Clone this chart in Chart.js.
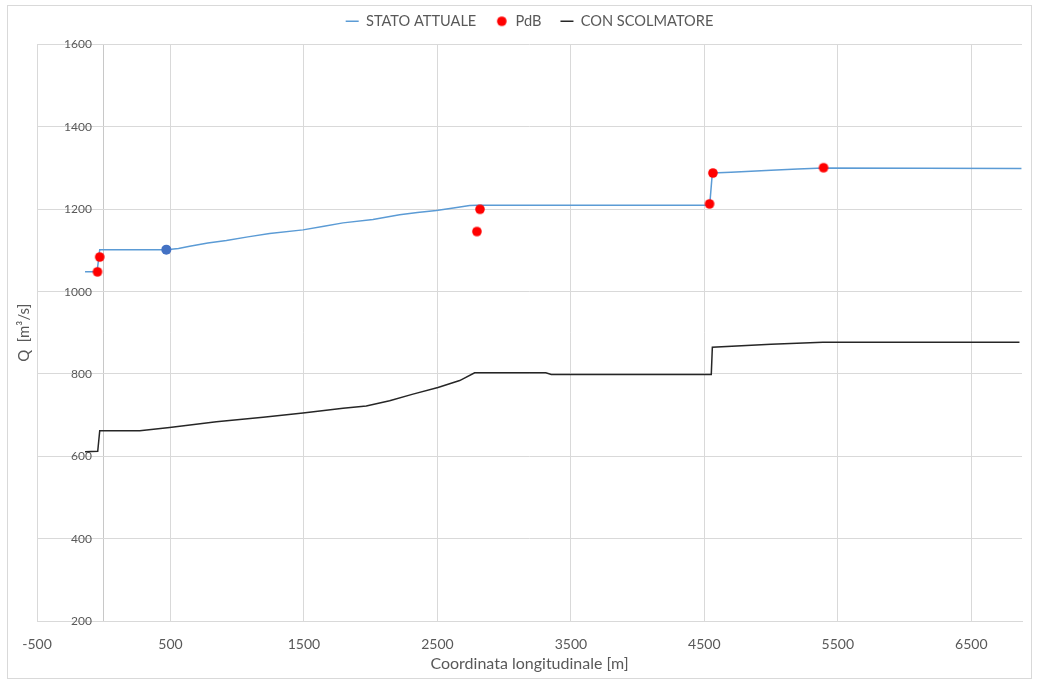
<!DOCTYPE html>
<html>
<head>
<meta charset="utf-8">
<script src="https://cdn.jsdelivr.net/npm/chart.js@4/dist/chart.umd.min.js"></script>
<style>
  html, body { margin: 0; padding: 0; background: #ffffff; }
  #wrap { width: 1039px; height: 684px; }
</style>
</head>
<body>
<div id="wrap"><canvas id="c" width="1039" height="684"></canvas></div>
<script>
// Portata lungo l'asta: stato attuale, punti PdB, configurazione con scolmatore
const statoX = [-140, -50, -30, 300, 469, 560, 644, 780, 919, 1080, 1243, 1493, 1650, 1793, 2017, 2217, 2350, 2492, 2620, 2742, 2800, 4540, 4560, 4700, 5000, 5200, 5393, 6876];
const statoQ = [1048, 1048, 1102, 1102, 1102, 1105, 1110, 1118, 1124, 1133, 1141, 1150, 1159, 1167, 1175, 1187, 1192, 1197, 1203, 1209, 1210, 1210, 1288, 1290, 1295, 1298, 1300, 1299];

const pdbX = [-47, -30, 2796, 2819, 4539, 4564, 5393];
const pdbQ = [1048, 1084, 1146, 1200, 1213, 1288, 1301];

const sezioneX = [469];
const sezioneQ = [1102];

const scolmX = [-140, -45, -30, 270, 494, 844, 1194, 1493, 1793, 1967, 2142, 2317, 2504, 2667, 2779, 3312, 3353, 4552, 4560, 5000, 5388, 6861];
const scolmQ = [611, 612, 662, 662, 670, 684, 695, 705, 717, 722, 735, 751, 767, 784, 803, 803, 799, 799, 865, 872, 877, 877];

const xTicks = [-500, 500, 1500, 2500, 3500, 4500, 5500, 6500];
const xCross = 0;               // the vertical axis crosses the x axis here
const yMin = 200, yMax = 1600, yStep = 200;
const xMin = -500, xMax = 6880;

const pts = (xs, ys) => xs.map((x, i) => ({ x: x, y: ys[i] }));

const FONT = 'Lato, "Open Sans", sans-serif';
const GRAY = '#595959';
const GRID = '#d9d9d9';
const AXIS = '#c8c8c8';

// round marker used for the PdB points (keeps the legend symbol circular)
function dotMarker(color, r) {
  const s = Math.ceil(r * 2) + 2;
  const cv = document.createElement('canvas');
  cv.width = s; cv.height = s;
  const g = cv.getContext('2d');
  g.fillStyle = color;
  g.beginPath();
  g.arc(s / 2, s / 2, r, 0, Math.PI * 2);
  g.fill();
  return cv;
}
const pdbMarker = dotMarker('#ff0000', 4.8);

const frame = {
  id: 'frame',
  beforeDraw(chart) {
    const ctx = chart.ctx;
    ctx.save();
    ctx.fillStyle = '#ffffff';
    ctx.fillRect(0, 0, chart.width, chart.height);
    ctx.restore();
  },
  afterDraw(chart) {
    const ctx = chart.ctx;
    ctx.save();
    ctx.strokeStyle = '#d9d9d9';
    ctx.lineWidth = 1;
    ctx.strokeRect(7.5, 5.5, 1024, 673);
    ctx.restore();
  }
};

new Chart(document.getElementById('c'), {
  type: 'scatter',
  data: {
    datasets: [
      {
        label: 'STATO ATTUALE',
        data: pts(statoX, statoQ),
        showLine: true,
        borderColor: '#5b9bd5',
        backgroundColor: '#5b9bd5',
        borderWidth: 1.5,
        pointRadius: 0,
        pointStyle: 'line',
        pointBorderWidth: 1.5,
        order: 2
      },
      {
        label: 'PdB',
        data: pts(pdbX, pdbQ),
        showLine: false,
        borderColor: '#ff0000',
        backgroundColor: '#ff0000',
        pointRadius: 4.8,
        pointBorderWidth: 0,
        pointStyle: pdbMarker,
        order: 0
      },
      {
        label: 'CON SCOLMATORE',
        data: pts(scolmX, scolmQ),
        showLine: true,
        borderColor: '#262626',
        backgroundColor: '#262626',
        borderWidth: 1.5,
        pointRadius: 0,
        pointStyle: 'line',
        pointBorderWidth: 1.5,
        order: 3
      },
      {
        label: 'Sezione',
        data: pts(sezioneX, sezioneQ),
        showLine: false,
        borderColor: '#4472c4',
        backgroundColor: '#4472c4',
        pointRadius: 5,
        pointBorderWidth: 0,
        order: 1
      }
    ]
  },
  options: {
    responsive: false,
    animation: false,
    devicePixelRatio: 1,
    layout: { padding: { left: 11, right: 17, top: -5, bottom: 7 } },
    plugins: {
      tooltip: { enabled: false },
      legend: {
        position: 'top',
        align: 'center',
        fullSize: false,
        labels: {
          usePointStyle: true,
          pointStyleWidth: 13,
          boxHeight: 7,
          padding: 19,
          color: GRAY,
          font: { family: FONT, size: 14.6 },
          filter: (item) => item.datasetIndex !== 3,
          sort: (a, b) => a.datasetIndex - b.datasetIndex
        }
      },
      subtitle: {
        // empty spacer between the legend and the plot
        display: true,
        text: '',
        position: 'top',
        weight: 500,
        padding: 0,
        font: { size: 5, lineHeight: 1.2 }
      }
    },
    scales: {
      x: {
        type: 'linear',
        position: 'bottom',
        min: xMin,
        max: xMax,
        afterBuildTicks: (scale) => {
          scale.ticks = xTicks.concat([xCross]).sort((a, b) => a - b).map(v => ({ value: v }));
        },
        afterFit: (scale) => { scale.height = 56; },
        grid: {
          color: (c) => (c.tick && c.tick.value === xCross) ? AXIS : GRID,
          lineWidth: 1,
          drawTicks: false
        },
        border: { color: GRID },
        ticks: {
          color: GRAY,
          padding: 15,
          font: { family: FONT, size: 14 },
          maxRotation: 0,
          autoSkip: false,
          callback: (v) => (v === xCross ? '' : String(v))
        },
        title: {
          display: true,
          text: 'Coordinata longitudinale [m]',
          color: GRAY,
          font: { family: FONT, size: 16 },
          padding: { top: 4, bottom: 4 }
        }
      },
      y: {
        type: 'linear',
        position: 'left',
        weight: 0,
        min: yMin,
        max: yMax,
        afterFit: (scale) => { scale.width = 0; },
        grid: { color: GRID, lineWidth: 1, drawTicks: false },
        border: { display: false },
        ticks: {
          stepSize: yStep,
          color: GRAY,
          mirror: true,
          crossAlign: 'far',
          padding: 27,
          font: { family: FONT, size: 12 },
          callback: (v) => String(v)
        }
      },
      yTitle: {
        type: 'linear',
        position: 'left',
        weight: 1,
        display: true,
        grid: { display: false, drawTicks: false },
        border: { display: false },
        ticks: { display: false },
        title: {
          display: true,
          text: 'Q  [m³/s]',
          color: GRAY,
          font: { family: FONT, size: 15 },
          padding: { top: 4, bottom: 4 }
        }
      }
    }
  },
  plugins: [frame]
});
</script>
</body>
</html>
